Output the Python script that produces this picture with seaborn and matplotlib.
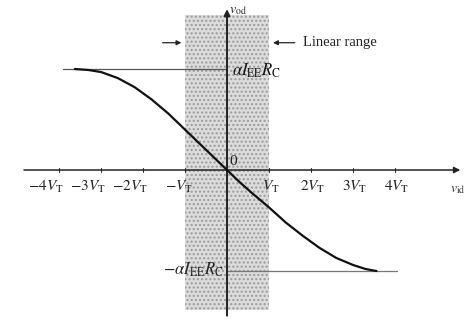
import matplotlib
matplotlib.use("Agg")
import matplotlib.pyplot as plt
import seaborn as sns
import pandas as pd

# Transfer characteristic of the differential pair: v_od versus v_id (in units of V_T)
vid = [-3.62, -3.3, -3.0, -2.6, -2.2, -1.8, -1.4, -1.0, -0.6, -0.3, 0.0,
       0.3, 0.6, 1.0, 1.4, 1.8, 2.2, 2.6, 3.0, 3.3, 3.56]
vod = [1.0, 0.99, 0.97, 0.91, 0.82, 0.70, 0.56, 0.40, 0.24, 0.12, 0.0,
       -0.12, -0.23, -0.37, -0.52, -0.65, -0.77, -0.87, -0.94, -0.98, -1.0]

# Horizontal axis ticks (multiples of V_T)
tick_values = [-4, -3, -2, -1, 1, 2, 3, 4]
tick_labels = [r"$-4V_{\mathrm{T}}$", r"$-3V_{\mathrm{T}}$", r"$-2V_{\mathrm{T}}$",
               r"$-V_{\mathrm{T}}$", r"$V_{\mathrm{T}}$", r"$2V_{\mathrm{T}}$",
               r"$3V_{\mathrm{T}}$", r"$4V_{\mathrm{T}}$"]

# Saturation levels and linear range
sat_levels = [1.0, -1.0]
sat_labels = [r"$\alpha I_{\mathrm{EE}}R_{\mathrm{C}}$", r"$-\alpha I_{\mathrm{EE}}R_{\mathrm{C}}$"]
linear_range = [-1.0, 1.0]

sns.set_style("white")
plt.rcParams["font.family"] = ["Liberation Serif", "DejaVu Serif"]
plt.rcParams["mathtext.fontset"] = "stix"

fig = plt.figure(figsize=(4.68, 3.27), dpi=100)
ax = fig.add_axes([0, 0, 1, 1])
ax.set_xlim(-5.405, 5.738)
ax.set_ylim(-1.554, 1.683)
ax.axis("off")

# Shaded linear range band
ax.fill_between(linear_range, -1.39, 1.535, facecolor="#dcdcdc", edgecolor="#9a9a9a",
                hatch="....", linewidth=0, zorder=0)

# Axes with arrow heads
ax.annotate("", xy=(5.62, 0), xytext=(-4.9, 0),
            arrowprops=dict(arrowstyle="-|>", color="#222222", lw=1.1, mutation_scale=9))
ax.annotate("", xy=(0, 1.62), xytext=(0, -1.47),
            arrowprops=dict(arrowstyle="-|>", color="#222222", lw=1.4, mutation_scale=9))

# Tick marks
for t in tick_values:
    ax.plot([t, t], [-0.02, 0.02], color="#333333", lw=0.8)

# Tick labels
for t, lab in zip(tick_values, tick_labels):
    if t <= -2:
        xpos = t - 0.31
    elif t == -1:
        xpos = t - 0.15
    else:
        xpos = t + 0.05
    ax.text(xpos, -0.17, lab, ha="center", va="center", fontsize=11, color="#222222")

ax.text(0.14, 0.08, "0", ha="center", va="center", fontsize=11, color="#222222")
ax.text(5.5, -0.19, r"$v_{\mathrm{id}}$", ha="center", va="center", fontsize=10, color="#333333")
ax.text(0.27, 1.58, r"$v_{\mathrm{od}}$", ha="center", va="center", fontsize=10, color="#222222")

# Saturation level lines
ax.plot([-3.9, 0.0], [sat_levels[0], sat_levels[0]], color="#555555", lw=0.9, zorder=1)
ax.plot([0.0, 4.05], [sat_levels[1], sat_levels[1]], color="#777777", lw=0.9, zorder=1)
ax.text(0.12, sat_levels[0] - 0.02, sat_labels[0], ha="left", va="center",
        fontsize=12, color="#111111", fontweight="bold")
ax.text(-0.08, sat_levels[1] + 0.01, sat_labels[1], ha="right", va="center",
        fontsize=12, color="#222222")

# Linear range markers
ax.annotate("", xy=(-1.02, 1.26), xytext=(-1.6, 1.26),
            arrowprops=dict(arrowstyle="-|>", color="#222222", lw=0.9, mutation_scale=7))
ax.annotate("", xy=(1.03, 1.26), xytext=(1.68, 1.26),
            arrowprops=dict(arrowstyle="-|>", color="#222222", lw=0.9, mutation_scale=7))
ax.text(1.8, 1.26, "Linear range", ha="left", va="center", fontsize=10.5, color="#222222")

# Transfer curve
df = pd.DataFrame({"vid": vid, "vod": vod})
sns.lineplot(data=df, x="vid", y="vod", ax=ax, color="#111111", linewidth=1.6, zorder=3)
ax.set_xlim(-5.405, 5.738)
ax.set_ylim(-1.554, 1.683)
ax.axis("off")

fig.savefig("out.png", dpi=100)
